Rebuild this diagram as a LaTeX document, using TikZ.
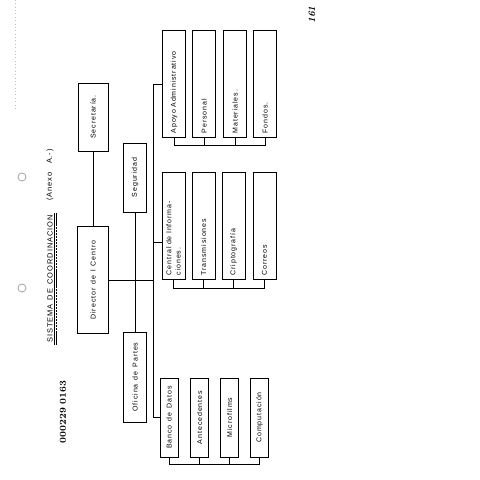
\documentclass[tikz,border=0pt]{standalone}
\usepackage{fontspec}
\newfontfamily\typed[LetterSpace=13,WordSpace={1.4,1,0.2}]{Liberation Sans}
\usetikzlibrary{calc}

\begin{document}
\begin{tikzpicture}[x=0.025cm, y=-0.025cm,
    box/.style={draw, line width=0.7pt, rotate=90, inner sep=1.5pt, align=center, font=\typed\fontsize{5}{6.5}\selectfont, minimum height=0.575cm},
    unit/.style={box, align=left, inner xsep=2.5pt, text width=2.47cm, minimum width=2.65cm},
    small/.style={box, minimum width=1.975cm, minimum height=0.45cm},
    head/.style={rotate=90, inner sep=1pt, font=\typed\fontsize{5.3}{7}\selectfont},
    wire/.style={line width=0.6pt}]
  \useasboundingbox (0,0) rectangle (480,480);

  \node[head] (ttl) at (50,279) {SISTEMA DE COORDINACION};
  \draw[line width=0.4pt] (ttl.south west) -- (ttl.south east);
  \draw[line width=0.5pt, dash pattern=on 1.6pt off 0.5pt] ([xshift=1.3pt]ttl.south west) -- ([xshift=1.3pt]ttl.south east);
  \node[head] (anx) at (50,175) {(Anexo \ A.-)};
  \node[rotate=90, font=\bfseries\fontsize{6.5}{7}\selectfont] (stp) at (63,412) {000229 0163};
  \node[rotate=90, font=\itshape\bfseries\fontsize{7}{8}\selectfont] (pg) at (312,15) {161};
  \draw[gray!70, line width=0.6pt] (22,177) circle[radius=4] (22,288) circle[radius=4];
  \draw[gray!50, dotted] (15,0) -- (15,110);

  \node[box, minimum width=1.7cm, minimum height=0.75cm] (sec) at (93,117) {Secretaría.};
  \node[box, minimum width=2.65cm, minimum height=0.775cm] (dir) at (93,280) {Director de l Centro};
  \node[box, minimum width=1.725cm] (seg) at (135,177.5) {Seguridad};
  \node[box, minimum width=2.25cm] (ofi) at (135,377) {Oficina de Partes};

  \node[unit] (apo) at (174,84) {Apoyo Administrativo};
  \node[unit] (per) at (204,84) {Personal};
  \node[unit] (mat) at (235,84) {Materiales.};
  \node[unit] (fon) at (265,84) {Fondos.};

  \node[unit] (cen) at (173.5,226) {Central de Informa-\\ciones.};
  \node[unit] (tra) at (203.5,226) {Transmisiones};
  \node[unit] (cri) at (233.5,226) {Criptografía};
  \node[unit] (cor) at (264.5,226) {Correos};

  \node[small] (ban) at (169,417.5) {Banco de Datos};
  \node[small] (ant) at (199.5,417.5) {Antecedentes};
  \node[small] (mic) at (229.5,417.5) {Microfilms};
  \node[small] (com) at (259.5,417.5) {Computación};

  \coordinate (bus) at (153,0);
  \coordinate (tb) at (0,145);
  \coordinate (mb) at (0,288);
  \coordinate (bb) at (0,464);
  \coordinate (cj) at ($(cen.north)+(0,16)$);

  \draw[wire] (sec.west) -- (dir.east);
  \draw[wire] (seg.west) -- (ofi.east);
  \draw[wire] (dir.south) -- (bus |- dir.south);
  \draw[wire] (apo.north) -| (bus |- ban.north) -- (ban.north);
  \draw[wire] (cj) -- (bus |- cj);

  \draw[wire] (apo.west) -- (apo.west |- tb) -- (fon.west |- tb) -- (fon.west);
  \draw[wire] (per.west) -- (per.west |- tb);
  \draw[wire] (mat.west) -- (mat.west |- tb);
  \draw[wire] (cen.west) -- (cen.west |- mb) -- (cor.west |- mb) -- (cor.west);
  \draw[wire] (tra.west) -- (tra.west |- mb);
  \draw[wire] (cri.west) -- (cri.west |- mb);
  \draw[wire] (ban.west) -- (ban.west |- bb) -- (com.west |- bb) -- (com.west);
  \draw[wire] (ant.west) -- (ant.west |- bb);
  \draw[wire] (mic.west) -- (mic.west |- bb);
\end{tikzpicture}
\end{document}
